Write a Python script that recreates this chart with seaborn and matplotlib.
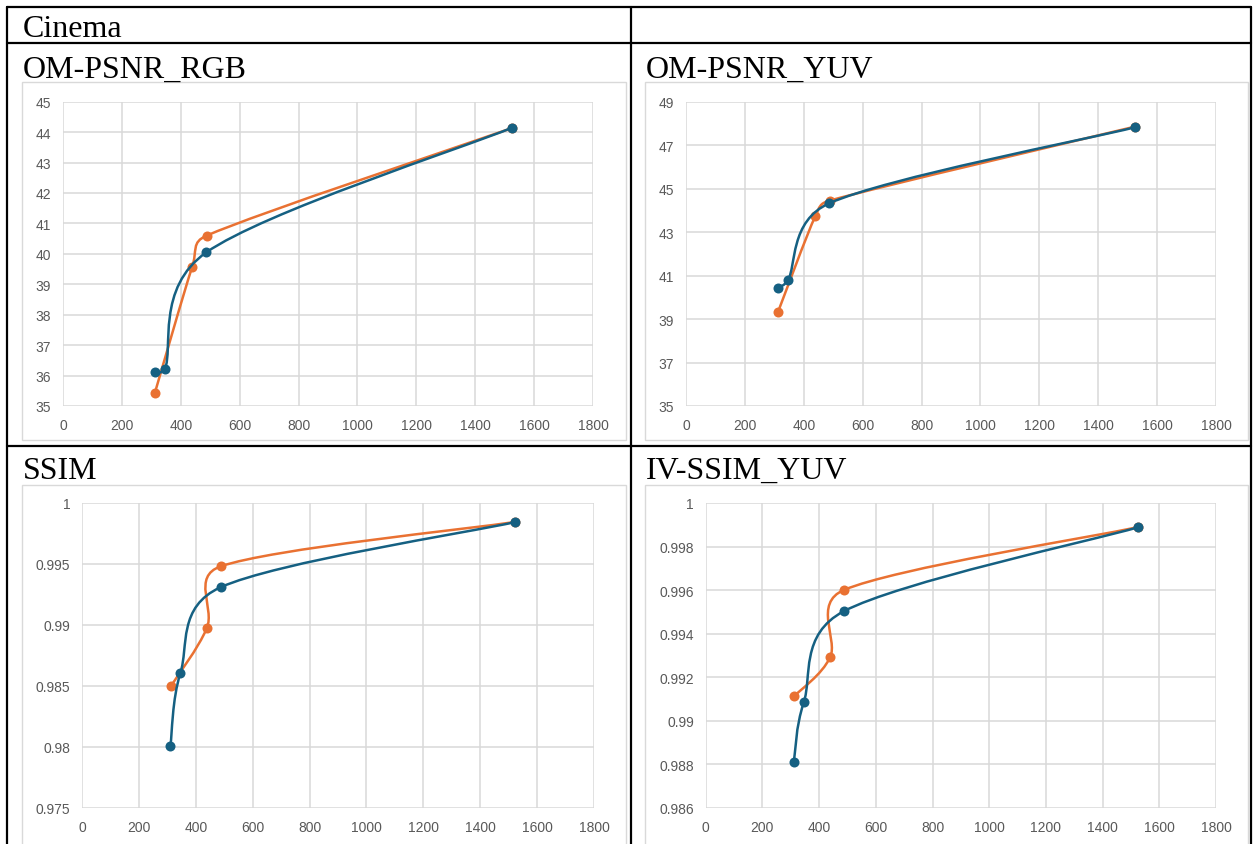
import numpy as np
import pandas as pd
import matplotlib
matplotlib.use("Agg")
import matplotlib.pyplot as plt
import seaborn as sns
from matplotlib.path import Path
from matplotlib.patches import PathPatch, Rectangle
from matplotlib.lines import Line2D
from matplotlib.ticker import FuncFormatter

# ---------------- data ----------------
section_title = "Cinema"
metric_titles = ["OM-PSNR_RGB", "OM-PSNR_YUV", "SSIM", "IV-SSIM_YUV"]

bitrate_orange = [312, 439, 488, 1524]
bitrate_blue = [311, 346, 487, 1524]

psnr_rgb_orange = [35.43, 39.58, 40.60, 44.13]
psnr_rgb_blue = [36.11, 36.21, 40.05, 44.14]

psnr_yuv_orange = [39.31, 43.73, 44.45, 47.85]
psnr_yuv_blue = [40.42, 40.78, 44.33, 47.82]

ssim_orange = [0.98497, 0.98975, 0.99481, 0.99845]
ssim_blue = [0.98011, 0.98607, 0.99309, 0.99844]

ivssim_orange = [0.99113, 0.99292, 0.99601, 0.99889]
ivssim_blue = [0.98813, 0.99085, 0.99503, 0.99888]

x_ticks = [0, 200, 400, 600, 800, 1000, 1200, 1400, 1600, 1800]
y_ticks_rgb = [35, 36, 37, 38, 39, 40, 41, 42, 43, 44, 45]
y_ticks_yuv = [35, 37, 39, 41, 43, 45, 47, 49]
y_ticks_ssim = [0.975, 0.98, 0.985, 0.99, 0.995, 1.0]
y_ticks_ivssim = [0.986, 0.988, 0.99, 0.992, 0.994, 0.996, 0.998, 1.0]

ORANGE = "#E97132"
BLUE = "#156082"
GRID = "#D9D9D9"
TICK = "#595959"

# ---------------- figure ----------------
sns.set_theme(style="white")
plt.rcParams["font.family"] = ["Liberation Sans", "DejaVu Sans"]

W, H = 1253, 845
fig = plt.figure(figsize=(W / 100, H / 100), dpi=100)
fig.patch.set_facecolor("white")


def fx(x):
    return x / W


def fy(y):
    return 1 - y / H


def add_axes_px(left, top, right, bottom):
    return fig.add_axes([fx(left), fy(bottom), (right - left) / W, (bottom - top) / H])


def smooth_path(ax, xs, ys):
    """Excel-like smoothed line: cubic Bezier segments whose control arms are
    computed in screen space and limited to half the segment length."""
    P = ax.transData.transform(np.column_stack([np.asarray(xs, float), np.asarray(ys, float)]))
    n = len(P)
    verts = [P[0]]
    codes = [Path.MOVETO]
    for i in range(n - 1):
        p0 = P[i - 1] if i > 0 else P[i]
        p1 = P[i]
        p2 = P[i + 1]
        p3 = P[i + 2] if i + 2 < n else P[i + 1]
        d12 = np.hypot(*(p2 - p1))
        d02 = np.hypot(*(p2 - p0))
        d13 = np.hypot(*(p3 - p1))
        f1 = 1 / 6 if d02 / 6 < d12 / 2 or d02 == 0 else d12 / (2 * d02)
        f2 = 1 / 6 if d13 / 6 < d12 / 2 or d13 == 0 else d12 / (2 * d13)
        c1 = p1 + f1 * (p2 - p0)
        c2 = p2 - f2 * (p3 - p1)
        verts += [c1, c2, p2]
        codes += [Path.CURVE4] * 3
    verts = ax.transData.inverted().transform(np.array(verts))
    return Path(verts, codes)


# table lines (black)
tbl_lw = 1.6
for y in [8, 44, 447]:
    fig.add_artist(Line2D([fx(7), fx(1251)], [fy(y), fy(y)], color="black", lw=tbl_lw,
                          transform=fig.transFigure, zorder=5))
for x in [7, 631, 1251]:
    fig.add_artist(Line2D([fx(x), fx(x)], [fy(8), fy(850)], color="black", lw=tbl_lw,
                          transform=fig.transFigure, zorder=5))

# chart frames
frames = [(22, 83, 626, 441), (645, 83, 1248, 441), (22, 486, 626, 860), (645, 486, 1248, 860)]
for (l, t, r, b) in frames:
    fig.add_artist(Rectangle((fx(l), fy(b)), (r - l) / W, (b - t) / H, transform=fig.transFigure,
                             facecolor="white", edgecolor=GRID, lw=1.0, zorder=0))

# texts
serif = ["Liberation Serif", "DejaVu Serif"]
fig.text(fx(23), fy(37), section_title, fontsize=23, family=serif, va="baseline", ha="left",
         color="black")
title_pos = [(23, 78), (646, 78), (23, 479), (646, 479)]
for (tx, ty), t in zip(title_pos, metric_titles):
    fig.text(fx(tx), fy(ty), t, fontsize=23, family=serif, va="baseline", ha="left", color="black")

# axes
axes_px = [(63, 102.7, 593, 407), (686, 102.7, 1216, 407), (82, 504, 594, 809), (705.7, 504, 1216, 809)]
series = [
    (psnr_rgb_orange, psnr_rgb_blue, y_ticks_rgb),
    (psnr_yuv_orange, psnr_yuv_blue, y_ticks_yuv),
    (ssim_orange, ssim_blue, y_ticks_ssim),
    (ivssim_orange, ivssim_blue, y_ticks_ivssim),
]

fmt = FuncFormatter(lambda v, p: f"{round(v, 3):g}")

for (l, t, r, b), (yo, yb, yt) in zip(axes_px, series):
    ax = add_axes_px(l, t, r, b)
    ax.set_facecolor("none")
    for s in ax.spines.values():
        s.set_visible(False)
    ax.set_xlim(x_ticks[0], x_ticks[-1])
    ax.set_ylim(yt[0], yt[-1])
    ax.set_xticks(x_ticks)
    ax.set_yticks(yt)
    ax.yaxis.set_major_formatter(fmt)
    ax.grid(True, color=GRID, lw=1.1)
    ax.set_axisbelow(True)
    ax.tick_params(axis="both", length=0, labelsize=10, labelcolor=TICK)
    ax.tick_params(axis="x", pad=9)
    ax.tick_params(axis="y", pad=8.5)

    df_o = pd.DataFrame({"bitrate": bitrate_orange, "value": yo})
    df_b = pd.DataFrame({"bitrate": bitrate_blue, "value": yb})

    ax.add_patch(PathPatch(smooth_path(ax, df_o["bitrate"], df_o["value"]), facecolor="none",
                           edgecolor=ORANGE, lw=1.8, capstyle="round", joinstyle="round",
                           zorder=2, clip_on=False))
    sns.scatterplot(data=df_o, x="bitrate", y="value", ax=ax, color=ORANGE, s=52,
                    edgecolor=ORANGE, linewidth=0, zorder=3, clip_on=False)
    ax.add_patch(PathPatch(smooth_path(ax, df_b["bitrate"], df_b["value"]), facecolor="none",
                           edgecolor=BLUE, lw=1.8, capstyle="round", joinstyle="round",
                           zorder=4, clip_on=False))
    sns.scatterplot(data=df_b, x="bitrate", y="value", ax=ax, color=BLUE, s=52,
                    edgecolor=BLUE, linewidth=0, zorder=5, clip_on=False)
    ax.set_xlim(x_ticks[0], x_ticks[-1])
    ax.set_ylim(yt[0], yt[-1])
    ax.set_xlabel("")
    ax.set_ylabel("")

fig.savefig("out.png", dpi=100, facecolor="white")
